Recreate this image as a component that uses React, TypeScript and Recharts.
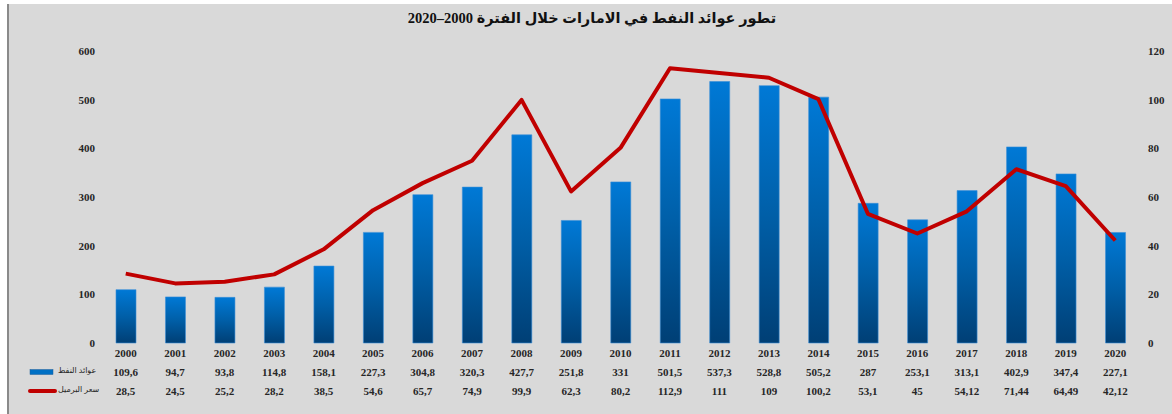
import React from 'react';
import { ComposedChart, Bar, Line, XAxis, YAxis } from 'recharts';

const years = ['2000', '2001', '2002', '2003', '2004', '2005', '2006', '2007', '2008', '2009', '2010', '2011', '2012', '2013', '2014', '2015', '2016', '2017', '2018', '2019', '2020'];
const revenue = [109.6, 94.7, 93.8, 114.8, 158.1, 227.3, 304.8, 320.3, 427.7, 251.8, 331, 501.5, 537.3, 528.8, 505.2, 287, 253.1, 313.1, 402.9, 347.4, 227.1];
const price = [28.5, 24.5, 25.2, 28.2, 38.5, 54.6, 65.7, 74.9, 99.9, 62.3, 80.2, 112.9, 111, 109, 100.2, 53.1, 45, 54.12, 71.44, 64.49, 42.12];
const leftTicks = [0, 100, 200, 300, 400, 500, 600];
const rightTicks = [0, 20, 40, 60, 80, 100, 120];
const title = 'تطور عوائد النفط في الامارات خلال الفترة 2000–2020';
const revenueName = 'عوائد النفط';
const priceName = 'سعر البرميل';

const data = years.map((y, i) => ({ year: y, revenue: revenue[i], price: price[i] }));

const fmt = (v: number) => String(v).replace('.', ',');
const FONT = '"Liberation Serif", "DejaVu Serif", "DejaVu Sans", serif';
const TXT = '#262626';

const TableTick = (props: any) => {
  const { x, y, payload } = props;
  const i = payload.index;
  const common = { textAnchor: 'middle' as const, fontFamily: FONT, fontWeight: 700, fontSize: 11, fill: TXT };
  return (
    <g>
      <text x={x} y={y + 14} {...common}>{years[i]}</text>
      <text x={x} y={y + 33} {...common}>{fmt(revenue[i])}</text>
      <text x={x} y={y + 52} {...common}>{fmt(price[i])}</text>
    </g>
  );
};

export default function App() {
  return (
    <div style={{ position: 'fixed', left: 0, top: 0, width: 1172, height: 414, background: '#ffffff', overflow: 'hidden' }}>
      <div style={{ position: 'absolute', left: 7, top: 4, width: 1165, height: 410, background: '#d9d9d9', borderLeft: '2px solid #8a8a8a', boxSizing: 'border-box' }} />
      <div style={{ position: 'absolute', left: 0, top: 0 }}>
        <ComposedChart width={1172} height={414} data={data} margin={{ top: 51, right: 0, bottom: 0, left: 0 }}>
          <defs>
            <linearGradient id="barGrad" x1="0" y1="0" x2="0" y2="1">
              <stop offset="0%" stopColor="#0079d6" />
              <stop offset="50%" stopColor="#005fa8" />
              <stop offset="100%" stopColor="#003f75" />
            </linearGradient>
          </defs>
          <XAxis dataKey="year" axisLine={false} tickLine={false} tickSize={0} tickMargin={0} interval={0} tick={<TableTick />} height={71} />
          <YAxis yAxisId="left" orientation="left" domain={[0, 600]} ticks={leftTicks} width={101} axisLine={false} tickLine={false} tickSize={0} tickMargin={6}
            tick={{ fontFamily: FONT, fontWeight: 700, fontSize: 11, fill: TXT }} />
          <YAxis yAxisId="right" orientation="right" domain={[0, 120]} ticks={rightTicks} width={32} axisLine={false} tickLine={false} tickSize={0} tickMargin={8}
            tick={{ fontFamily: FONT, fontWeight: 700, fontSize: 11, fill: TXT }} />
          <Bar yAxisId="left" dataKey="revenue" barSize={20} fill="url(#barGrad)" stroke="#3a8fd6" strokeWidth={0.6} isAnimationActive={false} />
          <Line yAxisId="right" dataKey="price" type="linear" stroke="#c00000" strokeWidth={4} dot={false} strokeLinejoin="round" isAnimationActive={false} />
        </ComposedChart>
      </div>
      <div dir="rtl" style={{ position: 'absolute', left: 0, width: 1184, top: 10, textAlign: 'center', fontFamily: FONT, fontWeight: 700, fontSize: 14.5, color: '#111', whiteSpace: 'nowrap' }}>{title}</div>
      <svg style={{ position: 'absolute', left: 0, top: 0 }} width={120} height={414}>
        <rect x={30} y={369.5} width={23} height={5} fill="#0070c4" stroke="#1f5f9a" strokeWidth={0.5} />
        <line x1={30} y1={391} x2={55} y2={391} stroke="#c00000" strokeWidth={4} strokeLinecap="round" />
      </svg>
      <div dir="rtl" style={{ position: 'absolute', left: 58, top: 366, fontFamily: FONT, fontSize: 8, color: TXT, whiteSpace: 'nowrap' }}>{revenueName}</div>
      <div dir="rtl" style={{ position: 'absolute', left: 58, top: 385, fontFamily: FONT, fontSize: 8, color: TXT, whiteSpace: 'nowrap' }}>{priceName}</div>
    </div>
  );
}
